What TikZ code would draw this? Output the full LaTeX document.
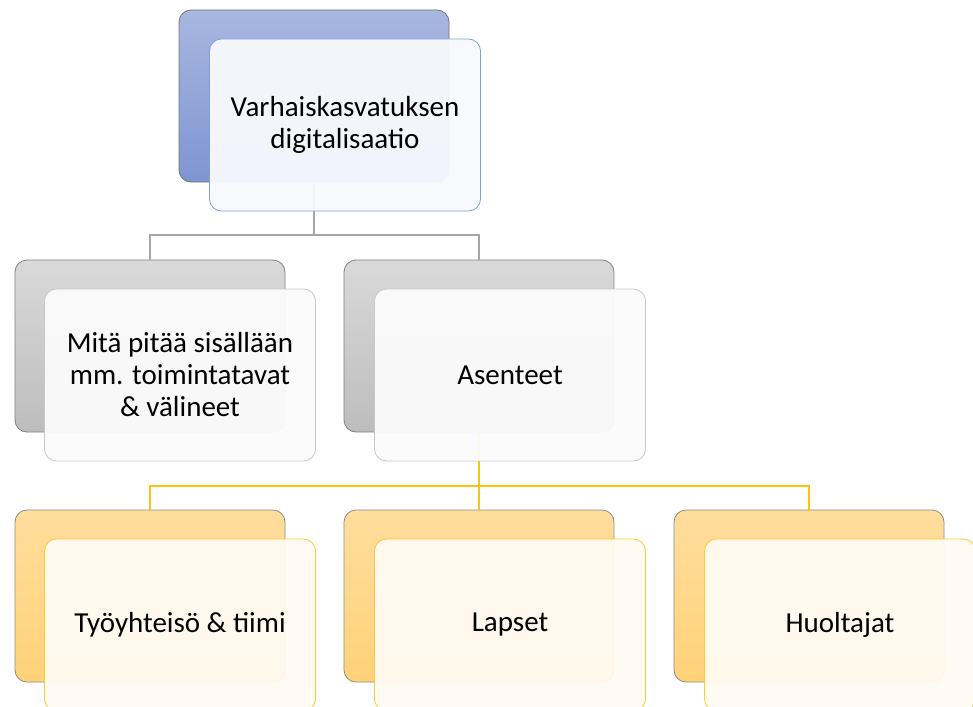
\documentclass[tikz,border=0pt]{standalone}
\usepackage{fontspec}
\setmainfont{Carlito}
\usepackage{tikz}
\usetikzlibrary{positioning}

\definecolor{blueTop}{HTML}{A8B7E0}
\definecolor{blueBot}{HTML}{7F95D2}
\definecolor{blueEdge}{HTML}{7F9FD8}
\definecolor{blueFront}{HTML}{F8F9FD}
\definecolor{grayTop}{HTML}{D9D9D9}
\definecolor{grayBot}{HTML}{BDBDBD}
\definecolor{grayEdge}{HTML}{C8C8C8}
\definecolor{grayFront}{HTML}{FBFBFB}
\definecolor{yelTop}{HTML}{FFDD9C}
\definecolor{yelBot}{HTML}{FFD279}
\definecolor{yelEdge}{HTML}{FFC933}
\definecolor{yelFront}{HTML}{FFFAF1}
\definecolor{yelLine}{HTML}{FFC20E}

\begin{document}
\begin{tikzpicture}[x=1pt,y=-1pt,
  back/.style={rounded corners=12pt,minimum width=270pt,minimum height=172pt,inner sep=0pt,line width=0.8pt},
  front/.style={rounded corners=12pt,minimum width=271pt,minimum height=172pt,inner sep=0pt,
    align=center,font=\fontsize{29}{32}\selectfont,fill opacity=0.955,text opacity=1,line width=0.8pt},
  grayline/.style={draw=black!35,line width=1.6pt},
  yelline/.style={draw=yelLine,line width=1.6pt}]
  \clip (0,0) rectangle (973,706);
  \useasboundingbox (0,0) rectangle (973,706);

  %back boxes
  \node[back,draw=black!55,top color=blueTop,bottom color=blueBot] (topb) at (314,96) {};
  \node[back,draw=black!50,top color=grayTop,bottom color=grayBot] (leftb) at (150,346) {};
  \node[back,draw=black!50,top color=grayTop,bottom color=grayBot] (rightb) at (479,346) {};
  \node[back,draw=black!45,top color=yelTop,bottom color=yelBot] (workb) at (150,596) {};
  \node[back,draw=black!45,top color=yelTop,bottom color=yelBot] (kidsb) at (479,596) {};
  \node[back,draw=black!45,top color=yelTop,bottom color=yelBot] (parentb) at (809,596) {};

  %connectors
  \coordinate (split1) at (314,235);
  \draw[grayline] (topb.south) -- (split1) -| (leftb.north);
  \draw[grayline] (split1) -| (rightb.north);
  \coordinate (split2) at (479,486);
  \draw[yelline] (rightb.south) -- (split2) -| (workb.north);
  \draw[yelline] (split2) -| (parentb.north);
  \draw[yelline] (split2) -- (kidsb.north);

  %front boxes
  \node[front,draw=blueEdge,fill=blueFront] (topf) at (345,125) {Varhaiskasvatuksen\\digitalisaatio};
  \node[front,draw=grayEdge,fill=grayFront] (leftf) at (180,375) {Mitä pitää sisällään\\mm. toimintatavat\\\& välineet};
  \node[front,draw=grayEdge,fill=grayFront] (rightf) at (510,375) {Asenteet};
  \node[front,draw=yelEdge,fill=yelFront] (workf) at (180,625) {Työyhteisö \& tiimi};
  \node[front,draw=yelEdge,fill=yelFront] (kidsf) at (510,625) {Lapset};
  \node[front,draw=yelEdge,fill=yelFront] (parentf) at (840,625) {Huoltajat};
\end{tikzpicture}
\end{document}
